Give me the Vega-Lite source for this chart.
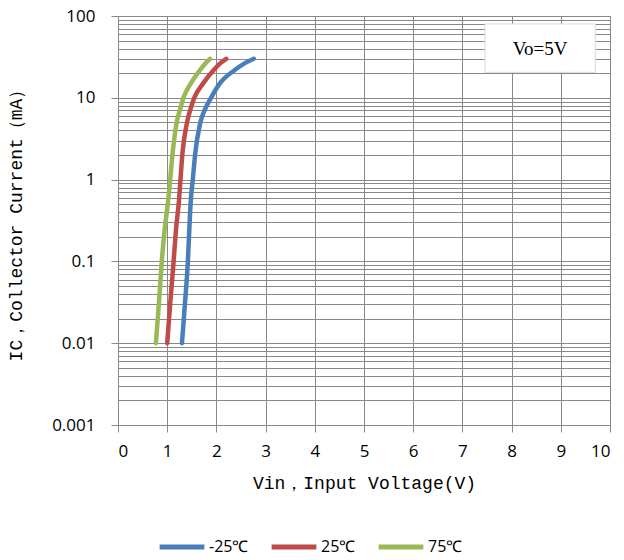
{
  "$schema": "https://vega.github.io/schema/vega-lite/v6.json",
  "width": 492,
  "height": 409,
  "autosize": {"type": "none"},
  "padding": {"left": 118, "top": 16, "right": 14, "bottom": 135},
  "background": "white",
  "config": {"view": {"stroke": null}},
  "datasets": {
    "curves": [
      {"vin": 1.30, "ic": 0.01, "series": "-25℃"},
      {"vin": 1.36, "ic": 0.03, "series": "-25℃"},
      {"vin": 1.42, "ic": 0.1, "series": "-25℃"},
      {"vin": 1.45, "ic": 0.25, "series": "-25℃"},
      {"vin": 1.48, "ic": 0.56, "series": "-25℃"},
      {"vin": 1.52, "ic": 1, "series": "-25℃"},
      {"vin": 1.57, "ic": 2.1, "series": "-25℃"},
      {"vin": 1.67, "ic": 4.9, "series": "-25℃"},
      {"vin": 1.78, "ic": 7.5, "series": "-25℃"},
      {"vin": 1.89, "ic": 10, "series": "-25℃"},
      {"vin": 2.07, "ic": 15, "series": "-25℃"},
      {"vin": 2.38, "ic": 22, "series": "-25℃"},
      {"vin": 2.58, "ic": 26.5, "series": "-25℃"},
      {"vin": 2.76, "ic": 30, "series": "-25℃"},
      {"vin": 1.00, "ic": 0.01, "series": "25℃"},
      {"vin": 1.06, "ic": 0.03, "series": "25℃"},
      {"vin": 1.13, "ic": 0.1, "series": "25℃"},
      {"vin": 1.18, "ic": 0.25, "series": "25℃"},
      {"vin": 1.24, "ic": 0.56, "series": "25℃"},
      {"vin": 1.27, "ic": 1, "series": "25℃"},
      {"vin": 1.31, "ic": 2.1, "series": "25℃"},
      {"vin": 1.40, "ic": 4.9, "series": "25℃"},
      {"vin": 1.48, "ic": 7.5, "series": "25℃"},
      {"vin": 1.55, "ic": 10, "series": "25℃"},
      {"vin": 1.73, "ic": 15, "series": "25℃"},
      {"vin": 1.95, "ic": 22, "series": "25℃"},
      {"vin": 2.08, "ic": 26.5, "series": "25℃"},
      {"vin": 2.20, "ic": 30, "series": "25℃"},
      {"vin": 0.77, "ic": 0.01, "series": "75℃"},
      {"vin": 0.83, "ic": 0.03, "series": "75℃"},
      {"vin": 0.89, "ic": 0.1, "series": "75℃"},
      {"vin": 0.95, "ic": 0.25, "series": "75℃"},
      {"vin": 1.02, "ic": 0.56, "series": "75℃"},
      {"vin": 1.06, "ic": 1, "series": "75℃"},
      {"vin": 1.11, "ic": 2.1, "series": "75℃"},
      {"vin": 1.19, "ic": 4.9, "series": "75℃"},
      {"vin": 1.27, "ic": 7.5, "series": "75℃"},
      {"vin": 1.33, "ic": 10, "series": "75℃"},
      {"vin": 1.48, "ic": 15, "series": "75℃"},
      {"vin": 1.67, "ic": 22, "series": "75℃"},
      {"vin": 1.78, "ic": 26.5, "series": "75℃"},
      {"vin": 1.87, "ic": 30, "series": "75℃"}
    ],
    "note": [
      {"x1": 7.46, "x2": 9.70, "y1": 20.5, "y2": 80, "xm": 8.58, "ym": 40, "label": "Vo=5V"}
    ]
  },
  "layer": [
    {
      "data": {"name": "curves"},
      "mark": {"type": "line", "strokeWidth": 4.5, "strokeCap": "round", "interpolate": "monotone"},
      "encoding": {
        "x": {
          "field": "vin", "type": "quantitative",
          "scale": {"domain": [0, 10], "nice": false, "zero": false},
          "axis": {
            "title": "Vin，Input Voltage(V)",
            "values": [0, 1, 2, 3, 4, 5, 6, 7, 8, 9, 10],
            "grid": true, "gridColor": "#888888", "gridWidth": 1,
            "domainColor": "#888888", "domainWidth": 1,
            "tickColor": "#888888", "tickSize": 7, "tickWidth": 1,
            "labelFont": "Open Sans", "labelFontSize": 17, "labelColor": "#000000", "labelPadding": 11,
            "titleFont": "Liberation Mono", "titleFontSize": 18, "titleFontWeight": "normal", "titleColor": "#000000", "titlePadding": 15
          }
        },
        "y": {
          "field": "ic", "type": "quantitative",
          "scale": {"type": "log", "domain": [0.001, 100], "nice": false},
          "axis": {
            "title": "IC，Collector Current（mA）",
            "values": [0.001, 0.002, 0.003, 0.004, 0.005, 0.006, 0.007, 0.008, 0.009,
                       0.01, 0.02, 0.03, 0.04, 0.05, 0.06, 0.07, 0.08, 0.09,
                       0.1, 0.2, 0.3, 0.4, 0.5, 0.6, 0.7, 0.8, 0.9,
                       1, 2, 3, 4, 5, 6, 7, 8, 9,
                       10, 20, 30, 40, 50, 60, 70, 80, 90, 100],
            "format": "~g",
            "labelExpr": "indexof([0.001, 0.01, 0.1, 1, 10, 100], datum.value) >= 0 ? datum.label : ''",
            "tickOpacity": {"condition": {"test": "indexof([0.001, 0.01, 0.1, 1, 10, 100], datum.value) >= 0", "value": 1}, "value": 0},
            "grid": true, "gridColor": "#888888", "gridWidth": 1,
            "domainColor": "#888888", "domainWidth": 1,
            "tickColor": "#888888", "tickSize": 7, "tickWidth": 1,
            "labelFont": "Open Sans", "labelFontSize": 17, "labelColor": "#000000", "labelPadding": 16,
            "labelOverlap": false, "labelBound": false, "labelFlush": false,
            "titleFont": "Liberation Mono", "titleFontSize": 18, "titleFontWeight": "normal", "titleColor": "#000000", "titlePadding": 26
          }
        },
        "color": {
          "field": "series", "type": "nominal",
          "scale": {"domain": ["-25℃", "25℃", "75℃"], "range": ["#4a7ebb", "#be4b48", "#98b954"]},
          "legend": {
            "title": null,
            "orient": "none",
            "direction": "horizontal",
            "legendX": 39,
            "legendY": 506,
            "symbolType": "stroke",
            "symbolSize": 2000,
            "symbolStrokeWidth": 5,
            "labelFont": "Open Sans",
            "labelFontSize": 16,
            "labelColor": "#000000",
            "labelOffset": 2,
            "columnPadding": 12
          }
        }
      }
    },
    {
      "data": {"name": "note"},
      "mark": {"type": "rect", "fill": "white", "stroke": "#d9d9d9", "strokeWidth": 1},
      "encoding": {
        "x": {"field": "x1", "type": "quantitative"},
        "x2": {"field": "x2"},
        "y": {"field": "y1", "type": "quantitative"},
        "y2": {"field": "y2"}
      }
    },
    {
      "data": {"name": "note"},
      "mark": {"type": "text", "font": "Liberation Serif", "fontSize": 19, "color": "#000000", "align": "center", "baseline": "middle"},
      "encoding": {
        "x": {"field": "xm", "type": "quantitative"},
        "y": {"field": "ym", "type": "quantitative"},
        "text": {"field": "label"}
      }
    }
  ]
}
